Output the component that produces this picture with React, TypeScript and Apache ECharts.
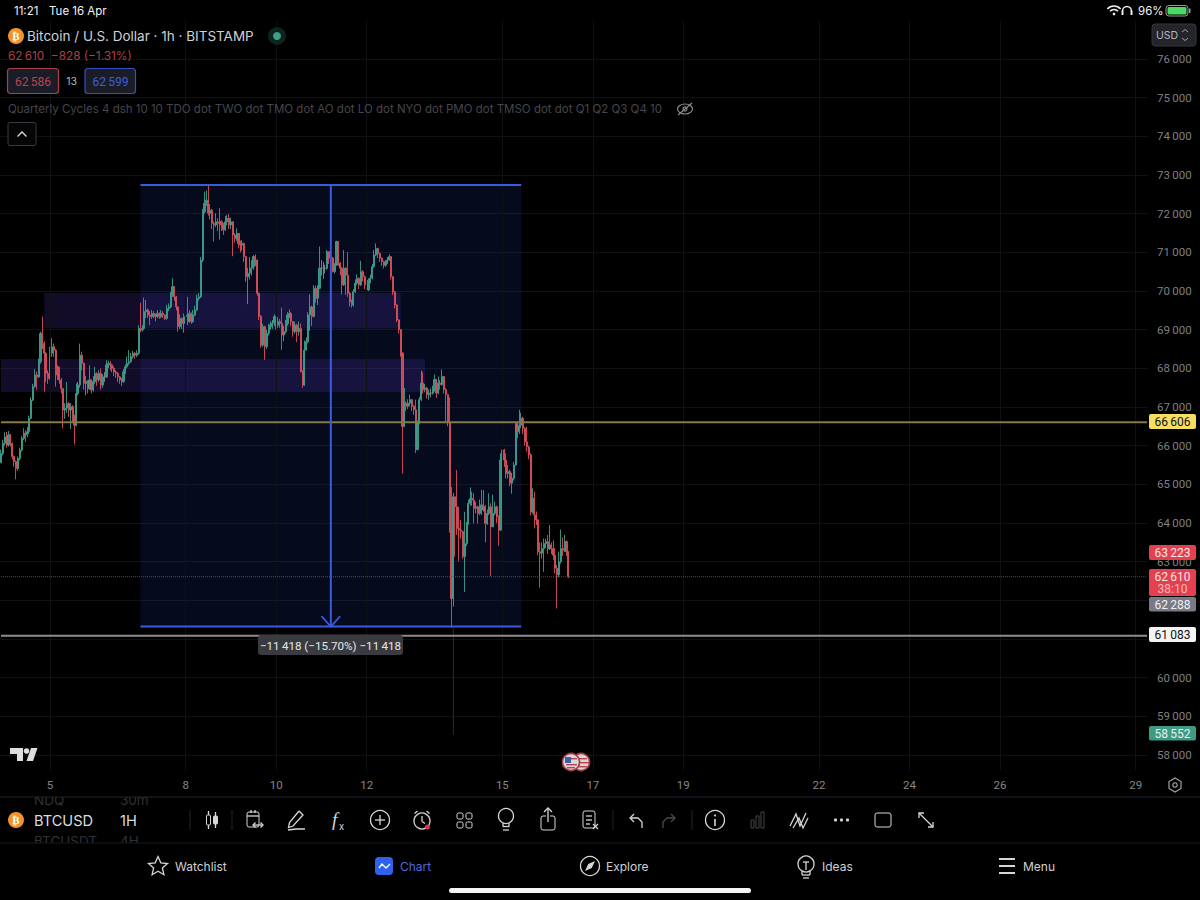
import React, { useEffect, useRef } from "react";
import * as echarts from "echarts";

const firstOpen = 65560;
const closes = [
  65800,66060,66230,66020,66280,66060,65720,65590,65410,65670,
  65890,66190,66320,66280,66360,66710,67180,67530,67830,67780,
  68170,68900,68650,68390,67870,67740,68390,68560,68470,68040,
  67830,67700,67480,66920,66970,67090,66920,67010,66750,66530,
  67350,67570,68340,68130,67610,67660,67480,67700,67440,67660,
  67870,67700,67870,67570,67780,67780,68090,68130,68090,68000,
  67910,67870,67780,67700,67660,67910,68040,68130,68170,68300,
  68390,68340,68390,69030,68990,69030,69470,69510,69380,69340,
  69420,69380,69340,69420,69340,69420,69380,69290,69550,69590,
  69900,70110,69850,69590,69080,69290,69160,69340,69380,69210,
  69420,69210,69380,69510,69810,69850,70800,72050,72270,72350,
  72010,72090,71750,71710,71790,71750,71790,71710,71580,71790,
  71880,71710,71790,71450,71360,71490,71230,71190,71230,70890,
  70370,70460,70590,70630,70890,70800,69940,69340,68600,69080,
  68560,68910,69080,69120,69170,69340,69120,69210,69160,68860,
  68950,69160,69380,69420,69210,68950,69120,68950,69030,67910,
  67570,68470,68690,69380,69590,69340,70070,69810,70070,70590,
  70590,70590,70590,71020,70850,70850,70500,70670,71280,70720,
  70590,70160,70590,70410,69940,69720,69640,69980,70200,70330,
  70160,70500,70370,70160,70030,70280,70330,70630,70930,71100,
  70970,70850,70760,70670,70720,70800,70890,70370,69980,69640,
  69250,69000,68400,66500,67100,67020,67100,67190,67020,66930,
  65900,66590,67190,67620,67450,67490,67320,67360,67360,67450,
  67710,67360,67620,67580,67790,67450,67320,66590,63820,62050,
  64680,64420,63860,63820,63780,63130,63470,63990,64510,64640,
  64590,64380,64420,64250,64470,64340,64420,63990,64250,64420,
  63900,64250,64420,64160,63820,65630,65890,65630,65280,65330,
  65030,65160,65500,66580,66360,66530,66710,66450,66100,65970,
  65760,64290,64640,64210,64080,63260,63220,63340,63470,63520,
  63340,63430,63340,63170,62830,62660,63000,63340,63300,63520,
  63260,62610,
];
const highs = [
  65900,66150,66350,66360,66380,66300,66080,65750,65620,65720,
  65950,66250,66450,66400,66480,66780,67250,67600,67980,67920,
  68250,68950,69340,68700,68420,67950,68560,68780,68640,68500,
  68080,68040,67750,67480,67100,67650,67130,67100,67050,66800,
  67610,67650,68640,68430,68150,67800,67700,68080,67720,67800,
  68040,67900,67950,68000,67850,67900,68210,68200,68180,68120,
  68050,67950,67900,67800,67750,67980,68100,68300,68470,68400,
  68450,68420,68470,69120,69700,69120,69830,69770,69550,69480,
  69510,69480,69420,69510,69450,69510,69480,69400,69640,69680,
  69980,70330,70130,69870,69600,69400,69320,69420,69470,69850,
  69500,69450,69510,69620,69900,69950,70880,72120,72570,72600,
  72730,72250,72120,71800,72010,71880,72140,71830,71760,71940,
  71970,71990,71900,71810,71500,71620,71500,71300,71320,71250,
  70900,70600,70880,70800,70930,70950,70820,69960,69380,69150,
  69100,69000,69150,69220,69250,69400,69350,69330,69280,69570,
  69100,69250,69450,69520,69450,69220,69210,69150,69210,69160,
  67950,68720,68800,69450,69910,69620,70150,70140,70150,71150,
  70800,70760,70680,71060,71030,71000,70880,70720,71300,71280,
  70750,70620,71060,70620,71000,69980,69780,70050,70300,70430,
  70350,70780,70540,70400,70200,70330,70420,70700,71060,71230,
  71120,70990,70870,70780,70800,70880,70950,70900,70390,70000,
  69660,69270,69020,68300,67490,67150,67200,67320,67210,67050,
  67190,66650,67260,67940,67900,67600,67520,67450,67480,67550,
  67840,67730,67790,67700,67970,67800,67490,67330,67250,64930,
  64780,64680,65370,64420,64080,63790,64290,64030,64600,64920,
  64810,64770,64550,64450,64610,64860,64850,64470,64350,64770,
  64510,64730,64550,64450,64200,65800,65950,65920,65800,65500,
  65380,65300,65580,66620,66620,66930,66850,66750,66480,66490,
  66000,65800,64900,64810,64300,64100,63500,63500,63600,63600,
  63690,63950,63500,63550,63350,62920,63260,63830,63630,63690,
  63550,63280,
];
const lows = [
  65560,65750,66000,65950,65980,65980,65650,65460,65130,65350,
  65620,65850,66150,66100,66220,66300,66680,67150,67500,67450,
  67750,68120,68500,67400,67650,67600,67700,68300,68300,67530,
  67700,67600,67350,66450,66700,66850,66750,66430,66600,66030,
  66500,67300,67500,67950,67450,67300,67350,67450,67350,67400,
  67600,67550,67650,67450,67500,67650,67750,68000,67950,67900,
  67800,67750,67650,67600,67550,67620,67850,68000,68080,68150,
  68250,68250,68290,68350,68930,68950,68990,69300,69300,69120,
  69280,69300,69220,69300,69280,69300,69300,69250,69260,69480,
  69550,69850,69750,69500,68950,69020,69020,68920,69250,69120,
  69180,69150,69180,69350,69480,69750,69820,70750,72000,72200,
  71950,71850,71600,71280,71650,71550,71330,71550,71450,71550,
  71700,71600,71600,70900,71250,71300,71100,71000,71050,70750,
  70240,69660,70300,70400,70550,70650,69880,69250,68530,68550,
  68220,68500,68850,69000,69020,69100,69000,69050,69050,68480,
  68700,68900,69100,69300,69100,68820,68900,68680,68850,67900,
  67500,67550,68560,68650,68970,69100,69320,69700,69640,70050,
  70400,70310,70450,70550,70700,70650,70480,70450,70650,70650,
  70410,69910,70130,69900,69850,69600,69570,69600,69950,70150,
  70050,70130,70250,70050,69880,70000,70200,70300,70600,70900,
  70850,70750,70650,70580,70620,70700,70780,70300,69900,69550,
  69200,68900,68300,65280,66480,66900,66950,67020,66900,66800,
  65810,65880,66550,67150,67350,67380,67220,67190,67250,67320,
  67400,67230,67330,67450,67550,67350,66600,66500,63750,61290,
  61840,63130,63700,63010,63600,63080,62220,63400,63950,64450,
  64450,63990,64250,63990,64200,64200,64300,63500,63950,64200,
  62630,63900,64200,64000,63410,63800,65500,65450,65150,65150,
  64950,64760,65100,65480,66190,66300,66450,66300,66000,65850,
  65650,64200,64250,63860,63950,63170,62330,63080,62740,63350,
  63200,63300,63200,63050,62700,61790,62600,62950,63150,63250,
  63150,62580,
];

const hourCount = 609;
const dayTickIndex = [26, 98, 146, 194, 266, 314, 362, 434, 482, 530, 602];
const dayTickLabels = ["5", "8", "10", "12", "15", "17", "19", "22", "24", "26", "29"];
const brightDays = ["22", "29"];
const hiddenPriceLabels = [57000, 61000, 62000, 77000];

const measureHigh = 72740;
const measureLow = 61322;
const measureStart = 74;
const measureEnd = 276;
const measureMid = 175;
const measureText = "\u221211\u2009418 (\u221215.70%) \u221211\u2009418";
const zoneAPrices = [69040, 69950];
const zoneAIndex = [23, 212];
const zoneBPrices = [67390, 68240];
const zoneBIndex = [0, 225];
const yellowLevel = 66606;
const whiteLevel = 61083;
const lastPrice = 62610;
const lowWick = [61290, 58520];
const lowWickIndex = 240;

const fmt = (v: number) => {
  const s = String(Math.round(v));
  return s.slice(0, -3) + "\u2009" + s.slice(-3);
};

const UI = "Inter, Roboto, sans-serif";
const NUM = "Roboto, Inter, sans-serif";
const INK = "#d6d6d8";
const Z = 100;

const txt = (x: number, y: number, text: string, fill: string, size: number, align = "left", family = UI) => ({
  type: "text", x, y, z: Z, silent: true,
  style: { text, fill, font: `normal ${size}px ${family}`, textAlign: align, textVerticalAlign: "middle" },
});
const rect = (x: number, y: number, width: number, height: number, fill: string, stroke = "none", r = 0, lineWidth = 1) => ({
  type: "rect", z: Z, silent: true, shape: { x, y, width, height, r }, style: { fill, stroke, lineWidth },
});
const ln = (x1: number, y1: number, x2: number, y2: number, stroke = INK, lineWidth = 1.3) => ({
  type: "line", z: Z, silent: true, shape: { x1, y1, x2, y2 }, style: { stroke, lineWidth },
});
const circ = (cx: number, cy: number, r: number, fill = "none", stroke = INK, lineWidth = 1.3) => ({
  type: "circle", z: Z, silent: true, shape: { cx, cy, r }, style: { fill, stroke, lineWidth },
});
const poly = (points: number[][], stroke = INK, lineWidth = 1.3) => ({
  type: "polyline", z: Z, silent: true, shape: { points }, style: { stroke, lineWidth, fill: "none" },
});
const gon = (points: number[][], fill: string, stroke = "none", lineWidth = 1.3) => ({
  type: "polygon", z: Z, silent: true, shape: { points }, style: { fill, stroke, lineWidth },
});

const tag = (y: number, h: number, fill: string, text: string, color: string) => [
  rect(1149, y, 47, h, fill, "none", 2),
  txt(1172.5, y + h / 2 + 0.5, text, color, 12, "center", NUM),
];

const statusAndHeader = [
  rect(0, 0, 1200, 21, "#000"),
  txt(14, 10.5, "11:21", "#f2f2f2", 11.5),
  txt(49, 10.5, "Tue 16 Apr", "#f2f2f2", 11.5),
  { type: "arc", z: Z, silent: true, shape: { cx: 1114, cy: 15, r: 9, startAngle: -2.4, endAngle: -0.74 }, style: { stroke: "#eee", lineWidth: 1.6, fill: "none" } },
  { type: "arc", z: Z, silent: true, shape: { cx: 1114, cy: 15, r: 5.5, startAngle: -2.4, endAngle: -0.74 }, style: { stroke: "#eee", lineWidth: 1.6, fill: "none" } },
  circ(1114, 14, 1.3, "#eee", "none"),
  { type: "arc", z: Z, silent: true, shape: { cx: 1127, cy: 11, r: 4.5, startAngle: 3.14, endAngle: 0 }, style: { stroke: "#eee", lineWidth: 1.4, fill: "none" } },
  rect(1121.5, 10.5, 2, 4.5, "#eee"),
  rect(1130.5, 10.5, 2, 4.5, "#eee"),
  txt(1138, 10.5, "96%", "#f2f2f2", 11.5),
  rect(1166, 5.5, 22, 10.5, "none", "#9a9a9a", 3),
  rect(1167.5, 7, 19, 7.5, "#4cd964", "none", 1.5),
  rect(1189, 8.5, 1.5, 4.5, "#9a9a9a"),

  circ(16, 36, 8, "#f0932b", "none"),
  { type: "text", x: 16, y: 36.5, z: Z + 1, silent: true, style: { text: "\u20bf", fill: "#fff", font: "bold 11px 'DejaVu Sans'", textAlign: "center", textVerticalAlign: "middle" } },
  txt(27, 36, "Bitcoin / U.S. Dollar \u00b7 1h \u00b7 BITSTAMP", "#cfd1d6", 13.5),
  circ(277, 36, 9, "#0d2320", "none"),
  circ(277, 36, 4, "#3f9e86", "none"),
  txt(8, 56, "62\u2009610  \u2212828 (\u22121.31%)", "#a8404a", 11.8),
  rect(7.5, 68.5, 51, 25, "#1a1d27", "#a8404a", 3, 1.2),
  txt(33, 81.5, "62\u2009586", "#b8444e", 12, "center", NUM),
  txt(71.5, 81.5, "13", "#b9b9b9", 10.5, "center"),
  rect(85, 68.5, 50.5, 25, "#1a1d27", "#3550c0", 3, 1.2),
  txt(110.5, 81.5, "62\u2009599", "#3f5fd8", 12, "center", NUM),
  txt(8, 109, "Quarterly Cycles 4 dsh 10 10 TDO dot TWO dot TMO dot AO dot LO dot NYO dot PMO dot TMSO dot dot Q1 Q2 Q3 Q4 10", "#45474d", 11.5),
  { type: "ellipse", z: Z, silent: true, shape: { cx: 685, cy: 109, rx: 7.5, ry: 5 }, style: { stroke: "#8a8a8a", fill: "none", lineWidth: 1.2 } },
  circ(685, 109, 2, "none", "#8a8a8a", 1.2),
  ln(678, 115, 692, 103, "#8a8a8a", 1.2),
  rect(8, 122.5, 28, 23, "#050505", "#3a3b40", 2),
  poly([[17.5, 136.5], [22, 132], [26.5, 136.5]], "#dcdcdc", 1.4),
  rect(1152, 24, 44, 22, "#23252b", "#34363c", 3),
  txt(1156, 35, "USD", "#b8b8bc", 10.5),
  poly([[1182, 32], [1185, 29.5], [1188, 32]], "#a0a0a0", 1),
  poly([[1182, 38], [1185, 40.5], [1188, 38]], "#a0a0a0", 1),
];

const priceTags = [
  ...tag(414, 15, "#f5de63", fmt(66606), "#111"),
  ...tag(545, 15, "#e4404f", fmt(63223), "#f4e6e6"),
  rect(1149, 569, 47, 27, "#e4404f", "none", 2),
  txt(1172.5, 576.5, fmt(62610), "#f7e8e8", 12, "center", NUM),
  txt(1172.5, 589, "38:10", "#f5b8bc", 12, "center", NUM),
  ...tag(597, 14.5, "#787b86", fmt(62288), "#eee"),
  ...tag(627, 15, "#f4f4f4", fmt(61083), "#111"),
  ...tag(726, 14.5, "#3f9a83", fmt(58552), "#e8f2ee"),
];

const measureTag = [
  rect(258, 635, 145, 20, "#3a3b40", "none", 3),
  txt(330.5, 645.5, measureText, "#e6e6e6", 11.6, "center", NUM),
];

const chartMarks = [
  gon([[10, 748], [23, 748], [23, 761], [17, 761], [17, 754], [10, 754]], "#dedede"),
  circ(26.5, 751, 2.8, "#dedede", "none"),
  gon([[31, 748], [37.5, 748], [33, 761], [26.5, 761]], "#dedede"),
  circ(581, 762, 8.5, "#d8d8d8", "#a63a44", 1.6),
  rect(578, 758, 9, 1.4, "#b8434e"), rect(578, 762, 11, 1.4, "#b8434e"), rect(578, 766, 9, 1.4, "#b8434e"),
  circ(571, 762, 8.5, "#d8d8d8", "#a63a44", 1.6),
  rect(565, 757, 6, 6, "#3d5fa8"),
  rect(571, 758, 6, 1.4, "#b8434e"), rect(566, 764, 11, 1.4, "#b8434e"), rect(567, 767, 8, 1.4, "#b8434e"),
  gon([[1175, 778], [1181, 781.5], [1181, 788.5], [1175, 792], [1169, 788.5], [1169, 781.5]], "none", "#a0a0a0", 1.2),
  circ(1175, 785, 2.2, "none", "#a0a0a0", 1.2),
];

const toolbar = [
  txt(34, 800, "NDQ", "#2f3136", 13.5),
  txt(120, 800, "30m", "#2f3136", 13.5),
  txt(34, 841, "BTCUSDT", "#2f3136", 13.5),
  txt(120, 841, "4H", "#2f3136", 13.5),
  rect(0, 792, 1150, 5, "#000"),
  rect(0, 843, 1200, 57, "#000"),
  ln(0, 797, 1200, 797, "#22242c", 1),
  ln(0, 843, 1200, 843, "#16181d", 1),
  circ(16, 820, 8, "#f0932b", "none"),
  { type: "text", x: 16, y: 820.5, z: Z + 1, silent: true, style: { text: "\u20bf", fill: "#fff", font: "bold 11px 'DejaVu Sans'", textAlign: "center", textVerticalAlign: "middle" } },
  txt(34, 820.5, "BTCUSD", "#dcdcde", 14.6),
  txt(120, 820.5, "1H", "#dcdcde", 14.6),
  ln(190, 810, 190, 830, "#23252b", 1),
  ln(232, 810, 232, 830, "#23252b", 1),
  ln(613, 810, 613, 830, "#23252b", 1),
  ln(692, 810, 692, 830, "#23252b", 1),
  ln(208.5, 811, 208.5, 829), rect(206.5, 815, 4, 10, "#000", INK, 1),
  ln(215.5, 812, 215.5, 828), rect(213.5, 816, 4, 8, INK, INK, 1),
  rect(247, 812, 12, 15, "none", INK, 2), ln(247, 816, 259, 816), ln(251, 810, 251, 813), ln(255, 810, 255, 813),
  ln(253, 825, 263, 825), poly([[255.5, 822.5], [253, 825], [255.5, 827.5]]), poly([[260.5, 822.5], [263, 825], [260.5, 827.5]]),
  poly([[299, 811], [303, 815], [293, 826], [288.5, 827.5], [289.5, 822.5], [299, 811]]),
  poly([[288, 830], [296, 829], [305, 829]]),
  { type: "text", x: 332, y: 819, z: Z, silent: true, style: { text: "f", fill: INK, font: "italic 19px 'Liberation Serif'", textVerticalAlign: "middle" } },
  txt(339, 826, "x", INK, 9.5),
  circ(380, 820, 9.5), ln(380, 815, 380, 825), ln(375, 820, 385, 820),
  circ(422, 821, 8), ln(422, 816, 422, 821.5), ln(422, 821.5, 425, 823.5),
  ln(414.5, 813.5, 417.5, 811), ln(429.5, 813.5, 426.5, 811), circ(427.5, 827, 2.5, "#e0394a", "none"),
  rect(457, 813, 6, 6, "none", INK, 1.5), rect(466, 813, 6, 6, "none", INK, 1.5),
  rect(457, 822, 6, 6, "none", INK, 1.5), rect(466, 822, 6, 6, "none", INK, 1.5),
  circ(506, 816, 7.5), ln(503, 823, 503, 826), ln(509, 823, 509, 826), ln(502.5, 826.5, 509.5, 826.5), ln(503, 830, 509, 830),
  rect(541, 816, 14, 14, "none", INK, 2), rect(546, 808, 4, 10, "#000", "none"), ln(548, 808, 548, 822), poly([[544, 812], [548, 808], [552, 812]]),
  rect(583, 811, 12, 17, "none", INK, 2), ln(586, 816, 592, 816), ln(586, 820, 592, 820), ln(586, 824, 590, 824),
  ln(593, 824, 598, 829), ln(598, 824, 593, 829),
  poly([[634, 814], [630, 818], [634, 822]]), poly([[630, 818], [638, 818], [642, 822], [642, 828]]),
  poly([[671, 814], [675, 818], [671, 822]], "#4a4b50"), poly([[675, 818], [667, 818], [663, 822], [663, 828]], "#4a4b50"),
  circ(715, 820, 9.5), ln(715, 819, 715, 826, INK, 1.6), circ(715, 815.5, 1, INK, "none"),
  rect(751, 820, 3, 8, "none", "#45464b", 0), rect(756, 816, 3, 12, "none", "#45464b", 0), rect(761, 812, 3, 16, "none", "#45464b", 0),
  poly([[790, 826], [796, 814], [800, 826], [806, 813]]), poly([[793, 828], [799, 818], [803, 828], [808, 818]]),
  circ(835.5, 820, 1.6, INK, "none"), circ(841.5, 820, 1.6, INK, "none"), circ(847.5, 820, 1.6, INK, "none"),
  rect(875, 813, 16, 14, "none", INK, 2),
  ln(919, 813, 933, 827), poly([[919, 818], [919, 813], [924, 813]]), poly([[928, 827], [933, 827], [933, 822]]),
];

const bottomNav = [
  gon([[158, 856.5], [160.8, 862.8], [167.5, 863.5], [162.4, 868], [163.9, 874.7], [158, 871.2], [152.1, 874.7], [153.6, 868], [148.5, 863.5], [155.2, 862.8]], "none", INK, 1.3),
  txt(175, 866.5, "Watchlist", "#d0d0d2", 12),
  rect(375, 857, 18, 18, "#2f62ee", "none", 4),
  poly([[379, 868], [382, 864], [386, 868], [390, 864]], "#fff", 1.3),
  txt(400, 866.5, "Chart", "#4a68e0", 12),
  circ(590, 866, 9.5),
  gon([[595, 861], [591.8, 868], [585, 871], [588.2, 864]], INK),
  txt(606, 866.5, "Explore", "#d0d0d2", 12),
  circ(806, 864, 8), ln(802, 871, 802, 875), ln(810, 871, 810, 875), ln(802, 875, 810, 875), ln(803, 878, 809, 878),
  ln(803, 862, 809, 862), ln(806, 862, 806, 870),
  txt(822, 866.5, "Ideas", "#d0d0d2", 12),
  ln(999, 859, 1015, 859, INK, 2), ln(999, 866, 1015, 866, INK, 2), ln(999, 873, 1015, 873, INK, 2),
  txt(1023, 866.5, "Menu", "#d0d0d2", 12),
  rect(449, 888, 302, 5, "#f4f4f4", "none", 2.5),
];

const plain = (name: string, data: number[][], color: string, width: number, type = "solid", z = 5) => ({
  type: "line", name, data, symbol: "none", silent: true, animation: false, z,
  lineStyle: { color, width, type }, itemStyle: { color },
});
const band = (x0: number, x1: number, y0: number, y1: number) => [
  { xAxis: x0, yAxis: y0 },
  { xAxis: x1, yAxis: y1 },
];

export default function App() {
  const ref = useRef<HTMLDivElement>(null);
  useEffect(() => {
    document.body.style.margin = "0";
    document.body.style.background = "#000";
    const chart = echarts.init(ref.current!, undefined, { renderer: "svg" });
    const categories = Array.from({ length: hourCount }, (_, i) => String(i));
    const candles = closes.map((c, i) => [i === 0 ? firstOpen : closes[i - 1], c, lows[i], highs[i]]);
    chart.setOption({
      animation: false,
      backgroundColor: "#000",
      grid: { left: 0, width: 1148, top: 20.33, height: 773.4, containLabel: false },
      xAxis: {
        type: "category",
        data: categories,
        boundaryGap: true,
        axisLine: { show: false },
        axisTick: { show: false },
        splitLine: { show: false },
        axisLabel: {
          inside: true,
          margin: 3,
          interval: (i: number) => dayTickIndex.includes(i),
          formatter: (_: string, i: number) => dayTickLabels[dayTickIndex.indexOf(i)] ?? "",
          color: (_: string, i: number) =>
            brightDays.includes(dayTickLabels[dayTickIndex.indexOf(i)]) ? "#c8c8ca" : "#86868a",
          fontFamily: NUM,
          fontSize: 11.5,
        },
      },
      yAxis: {
        type: "value",
        position: "right",
        min: 57000,
        max: 77000,
        interval: 1000,
        axisLine: { show: false },
        axisTick: { show: false },
        splitLine: { show: true, lineStyle: { color: "#101115", width: 1 } },
        axisLabel: {
          margin: 9,
          color: "#7f7f84",
          fontFamily: NUM,
          fontSize: 11.5,
          formatter: (v: number) => (hiddenPriceLabels.includes(v) ? "" : fmt(v)),
        },
      },
      series: [
        {
          ...plain("Day grid", [[0, 77000]], "rgba(0,0,0,0)", 0, "solid", 1),
          markLine: {
            silent: true, animation: false, symbol: "none", label: { show: false },
            lineStyle: { color: "#101115", width: 1, type: "solid" },
            data: dayTickIndex.map((i) => [{ xAxis: i, yAxis: 57590 }, { xAxis: i, yAxis: 77000 }]),
          },
        },
        {
          ...plain("Measure top", [[measureStart, measureHigh], [measureEnd, measureHigh]], "#3a5be0", 2),
          markArea: {
            silent: true, animation: false,
            itemStyle: { color: "rgba(45,90,255,0.115)" },
            data: [band(measureStart, measureEnd, measureLow, measureHigh)],
          },
        },
        {
          ...plain("Zones", [[zoneAIndex[0], zoneAPrices[1]]], "rgba(0,0,0,0)", 0, "solid", 2),
          markArea: {
            silent: true, animation: false,
            itemStyle: { color: "rgba(92,60,200,0.2)" },
            data: [
              band(zoneAIndex[0], zoneAIndex[1], zoneAPrices[0], zoneAPrices[1]),
              band(zoneBIndex[0], zoneBIndex[1], zoneBPrices[0], zoneBPrices[1]),
            ],
          },
        },
        plain("Low wick", [[lowWickIndex, lowWick[0]], [lowWickIndex, lowWick[1]]], "#2a2c30", 1, "solid", 3),
        {
          type: "candlestick",
          name: "BTCUSD",
          data: candles,
          barWidth: 1.6,
          silent: true,
          animation: false,
          z: 4,
          itemStyle: {
            color: "#3f9e8c",
            color0: "#d9505c",
            borderColor: "#3f9e8c",
            borderColor0: "#d9505c",
            borderColorDoji: "#8a8a8a",
            borderWidth: 1,
            opacity: 0.9,
          },
        },
        plain("Yellow level", [[0, yellowLevel], [hourCount - 1, yellowLevel]], "#85794a", 2),
        plain("White level", [[0, whiteLevel], [hourCount - 1, whiteLevel]], "#8d8d8d", 2),
        plain("Last price", [[0, lastPrice], [hourCount - 1, lastPrice]], "#8f3a48", 1, "dotted"),
        plain("Measure bottom", [[measureStart, measureLow], [measureEnd, measureLow]], "#3a5be0", 2),
        plain("Measure span", [[measureMid, measureHigh], [measureMid, measureLow]], "#3a5be0", 2),
        plain("Measure arrow", [[measureMid - 5, measureLow + 270], [measureMid, measureLow], [measureMid + 5, measureLow + 270]], "#3a5be0", 1.6),
      ],
      graphic: {
        elements: [...chartMarks, ...measureTag, ...priceTags, ...toolbar, ...bottomNav, ...statusAndHeader],
      },
    });
    return () => chart.dispose();
  }, []);
  return <div ref={ref} style={{ position: "fixed", left: 0, top: 0, width: 1200, height: 900 }} />;
}
